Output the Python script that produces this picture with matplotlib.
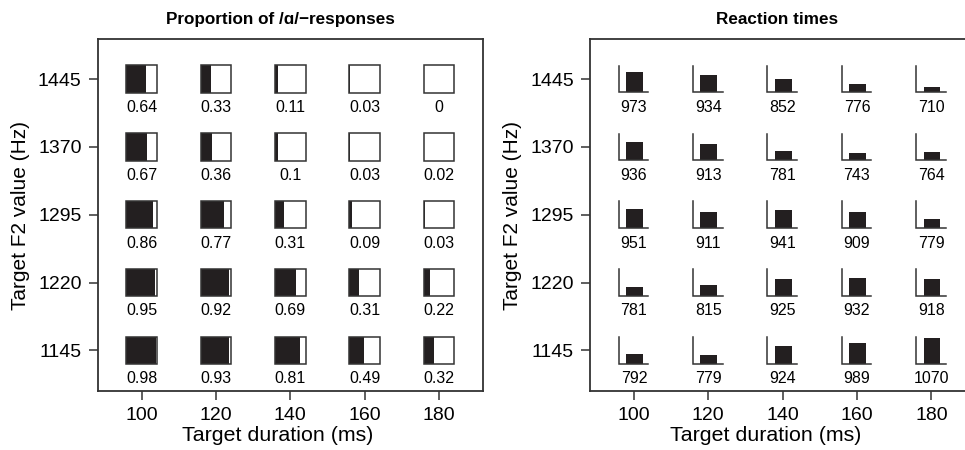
import matplotlib.pyplot as plt
from matplotlib.patches import Rectangle

plt.rcParams['font.family'] = ['Liberation Sans', 'DejaVu Sans']

durations = [100, 120, 140, 160, 180]
f2_values = [1445, 1370, 1295, 1220, 1145]

# proportion of /a/ responses, rows follow f2_values (top to bottom)
prop_a = [
    [0.64, 0.33, 0.11, 0.03, 0],
    [0.67, 0.36, 0.1, 0.03, 0.02],
    [0.86, 0.77, 0.31, 0.09, 0.03],
    [0.95, 0.92, 0.69, 0.31, 0.22],
    [0.98, 0.93, 0.81, 0.49, 0.32],
]

# mean reaction times (ms)
rt = [
    [973, 934, 852, 776, 710],
    [936, 913, 781, 743, 764],
    [951, 911, 941, 909, 779],
    [781, 815, 925, 932, 918],
    [792, 779, 924, 989, 1070],
]

rt_lo, rt_hi = 620, 1090  # range of the little bar scale

dark = '#231f20'
edge = '#333333'

fig = plt.figure(figsize=(9.65, 4.5), dpi=100)
ax1 = fig.add_axes([0.1012, 0.1311, 0.3996, 0.7816])
ax2 = fig.add_axes([0.6114, 0.1311, 0.3996, 0.7816])

for ax in (ax1, ax2):
    ax.set_xlim(88.2, 191.9)
    ax.set_ylim(1100, 1489)
    ax.set_xticks(durations)
    ax.set_yticks(f2_values)
    ax.tick_params(labelsize=14, length=6.5, width=1.1, color=edge, pad=5)
    for s in ax.spines.values():
        s.set_linewidth(1.3)
        s.set_color(edge)
    ax.set_xlabel('Target duration (ms)', fontsize=15.4)
    ax.set_ylabel('Target F2 value (Hz)', fontsize=15, labelpad=6)

ax2.spines['right'].set_visible(False)
ax1.xaxis.set_label_coords(0.4676, -0.1)
ax2.xaxis.set_label_coords(0.4564, -0.1)

ax1.set_title('Proportion of /\u0251/\u2212responses', fontsize=12.3, fontweight='bold',
              pad=11, x=0.475)
ax2.set_title('Reaction times', fontsize=12.3, fontweight='bold', pad=11, x=0.485)

# left panel: boxes filled from the left by the proportion
hw, hh = 4.1, 15.2
for i, f2 in enumerate(f2_values):
    for j, d in enumerate(durations):
        p = prop_a[i][j]
        ax1.add_patch(Rectangle((d - hw, f2 - hh), 2 * hw * p, 2 * hh,
                                facecolor=dark, edgecolor='none'))
        ax1.add_patch(Rectangle((d - hw, f2 - hh), 2 * hw, 2 * hh,
                                facecolor='none', edgecolor=edge, linewidth=1.1))
        ax1.text(d, f2 - 31.5, f'{p:g}', ha='center', va='center', fontsize=11.5)

# right panel: a tiny bar chart per cell
for i, f2 in enumerate(f2_values):
    for j, d in enumerate(durations):
        v = rt[i][j]
        base = f2 - 14.7
        top = f2 + 14.7
        h = (v - rt_lo) / (rt_hi - rt_lo) * (top - base)
        ax2.add_patch(Rectangle((d - 2.1, base), 4.5, h, facecolor=dark, edgecolor='none'))
        ax2.plot([d - 4.1, d - 4.1, d + 3.9], [top, base, base], color=edge, linewidth=1.1,
                 solid_joinstyle='miter')
        ax2.text(d, f2 - 31.5, f'{v}', ha='center', va='center', fontsize=11.5)

fig.savefig('out.png', dpi=100)
